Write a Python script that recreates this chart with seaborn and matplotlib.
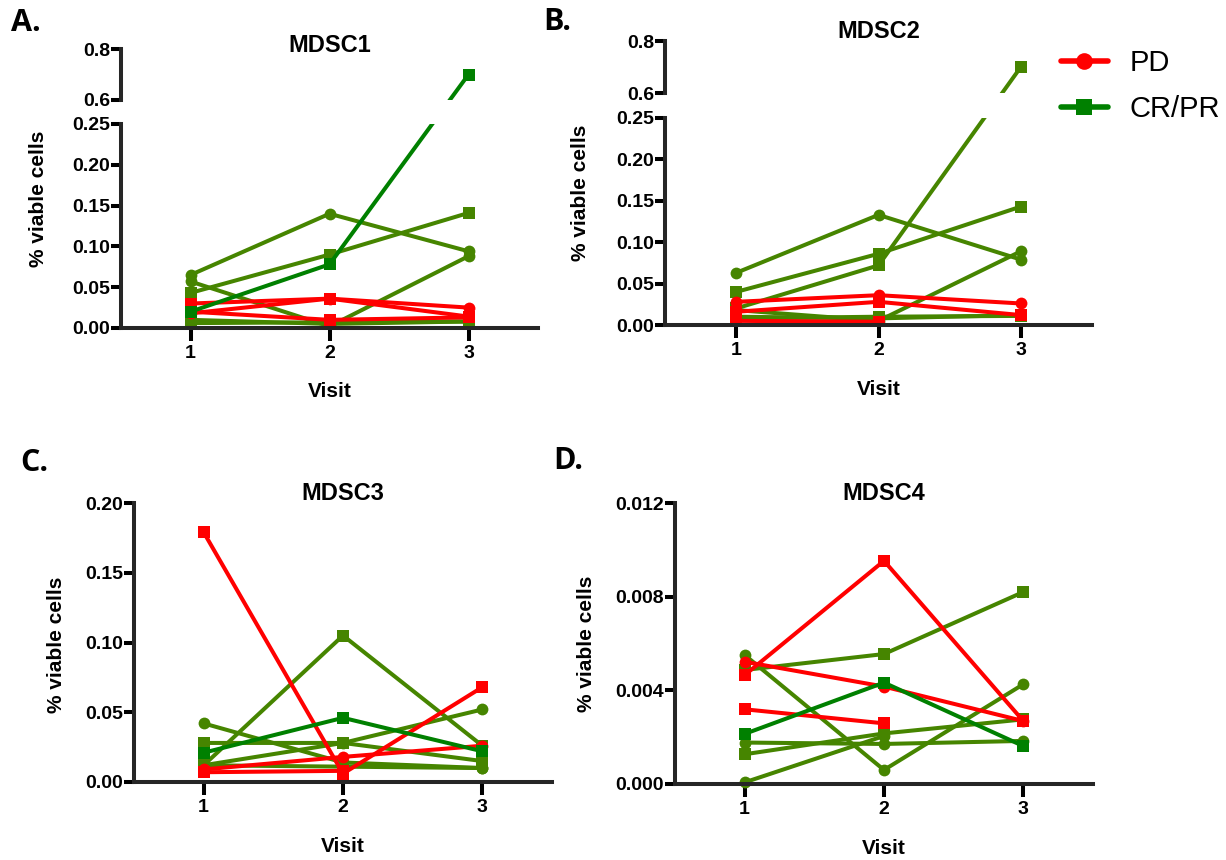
import matplotlib
matplotlib.use("Agg")
import matplotlib.pyplot as plt
import seaborn as sns
import numpy as np
from matplotlib.lines import Line2D

visits = [1, 2, 3]
nan = np.nan

# MDSC1 (panel A)
mdsc1_pd = [[0.030, 0.036, 0.014], [0.018, 0.036, 0.025], [0.020, 0.010, 0.013]]
mdsc1_pd_marks = ['s', 'o', 's']
mdsc1_cr = [[0.065, 0.140, 0.094], [0.043, 0.090, 0.141], [0.057, 0.002, 0.088],
            [0.010, 0.005, 0.008], [0.006, 0.007, 0.008]]
mdsc1_cr_marks = ['o', 's', 'o', 's', 's']
mdsc1_cr_hi = [0.020, 0.078, 0.700]

# MDSC2 (panel B)
mdsc2_pd = [[0.028, 0.036, 0.026], [0.016, 0.028, 0.012], [0.005, 0.004, nan]]
mdsc2_pd_marks = ['o', 's', 's']
mdsc2_cr = [[0.063, 0.133, 0.079], [0.040, 0.086, 0.143], [0.020, 0.072, 0.700],
            [0.018, 0.005, 0.089], [0.008, 0.010, 0.011], [0.010, 0.008, 0.012]]
mdsc2_cr_marks = ['o', 's', 's', 'o', 's', 's']
mdsc2_cr_hi = None

# MDSC3 (panel C)
mdsc3_pd = [[0.179, 0.006, 0.068], [0.009, 0.018, 0.026], [0.007, 0.008, nan]]
mdsc3_pd_marks = ['s', 'o', 's']
mdsc3_cr = [[0.012, 0.105, 0.026], [0.042, 0.014, 0.010], [0.028, 0.028, 0.015],
            [0.012, 0.028, 0.052], [0.012, 0.011, 0.010]]
mdsc3_cr_marks = ['s', 'o', 's', 'o', 'o']
mdsc3_cr_hi = [0.021, 0.046, 0.022]

# MDSC4 (panel D)
mdsc4_pd = [[0.00465, 0.00953, 0.00269], [0.00522, 0.00416, 0.00269], [0.00319, 0.00259, nan]]
mdsc4_pd_marks = ['s', 'o', 's']
mdsc4_cr = [[0.00487, 0.00555, 0.00820], [0.00551, 0.00060, 0.00426],
            [0.00127, 0.00216, 0.00276], [0.00177, 0.00171, 0.00184],
            [0.00007, 0.00205, nan]]
mdsc4_cr_marks = ['s', 'o', 's', 'o', 'o']
mdsc4_cr_hi = [0.00214, 0.00433, 0.00162]

RED = '#ff0000'
OLIVE = '#468500'
GREEN = '#008000'
LW = 2.9
MS = 8.5
SPINE = 2.9

sns.set_style("ticks")
plt.rcParams['font.family'] = ['Liberation Sans', 'DejaVu Sans']
plt.rcParams['font.weight'] = 'bold'
plt.rcParams['text.color'] = 'black'
plt.rcParams['axes.labelcolor'] = 'black'

W, H = 1226, 860
fig = plt.figure(figsize=(W / 100, H / 100), dpi=100)


def rect(x0, x1, y0, y1):
    return [x0 / W, 1 - y1 / H, (x1 - x0) / W, (y1 - y0) / H]


def draw(ax, pd_vals, pd_marks, cr_vals, cr_marks, cr_hi, clip):
    kw = dict(ax=ax, linewidth=LW, markersize=MS, markeredgewidth=0,
              legend=False, clip_on=clip)
    for vals, m in zip(cr_vals, cr_marks):
        sns.lineplot(x=visits, y=vals, color=OLIVE, marker=m, **kw)
    for vals, m in zip(pd_vals, pd_marks):
        sns.lineplot(x=visits, y=vals, color=RED, marker=m, **kw)
    if cr_hi is not None:
        sns.lineplot(x=visits, y=cr_hi, color=GREEN, marker='s', **kw)


def style(ax, bottom=True):
    sns.despine(ax=ax)
    ax.spines['left'].set_linewidth(SPINE)
    ax.spines['bottom'].set_linewidth(SPINE)
    ax.tick_params(width=SPINE, length=7, labelsize=14, pad=1, colors='black')
    ax.tick_params(axis='x', length=9, pad=3)
    ax.set_xlim(0.5, 3.5)
    ax.set_xlabel('')
    ax.set_ylabel('')
    ax.minorticks_off()
    if bottom:
        ax.set_xticks(visits)
    else:
        ax.spines['bottom'].set_visible(False)
        ax.set_xticks([])


def break_mark(ax, y):
    # short inward tick at the axis break, like the original
    ax.set_yticks([y], minor=True)
    ax.tick_params(axis='y', which='minor', direction='in', length=7,
                   width=SPINE, color='black', labelleft=False)


def broken_scale(top_y, bot_y, lo=(0, 0.25), hi=(0.6, 0.8)):
    # piecewise mapping so that both halves share one visual y axis
    k_lo = (bot_y[1] - bot_y[0]) / (lo[1] - lo[0])
    gap = (bot_y[0] - top_y[1]) / k_lo
    k_hi = (top_y[1] - top_y[0]) / (hi[1] - hi[0]) / k_lo
    g_slope = gap / (hi[0] - lo[1])
    top0 = lo[1] + gap

    def fwd(y):
        y = np.asarray(y, dtype=float)
        return np.where(y <= lo[1], y,
                        np.where(y < hi[0], lo[1] + (y - lo[1]) * g_slope,
                                 top0 + (y - hi[0]) * k_hi))

    def inv(v):
        v = np.asarray(v, dtype=float)
        return np.where(v <= lo[1], v,
                        np.where(v < top0, lo[1] + (v - lo[1]) / g_slope,
                                 hi[0] + (v - top0) / k_hi))
    return fwd, inv


def broken_panel(xr, top_y, bot_y, data, title, letter, letter_xy, title_y, ylab_x, visit_y):
    ax_top = fig.add_axes(rect(xr[0], xr[1], top_y[0], top_y[1]))
    ax_bot = fig.add_axes(rect(xr[0], xr[1], bot_y[0], bot_y[1]))
    funcs = broken_scale(top_y, bot_y)
    for ax in (ax_top, ax_bot):
        draw(ax, *data, clip=True)
        ax.set_yscale('function', functions=funcs)
    ax_top.set_ylim(0.6, 0.8)
    ax_top.set_yticks([0.6, 0.8])
    ax_top.set_yticklabels(['0.6', '0.8'])
    style(ax_top, bottom=False)
    break_mark(ax_top, 0.6)
    ax_bot.set_ylim(0, 0.25)
    ticks = np.arange(0, 0.2501, 0.05)
    ax_bot.set_yticks(ticks)
    ax_bot.set_yticklabels([f'{t:.2f}' for t in ticks])
    style(ax_bot)
    break_mark(ax_bot, 0.25)
    add_text(ax_bot, title, letter, letter_xy, title_y, ylab_x,
             (top_y[0] + bot_y[1]) / 2 + 10, visit_y)


def add_text(ax, title, letter, letter_xy, title_y, ylab_x, ylab_y, visit_y):
    x0, x1 = ax.get_position().x0 * W, ax.get_position().x1 * W
    cx = x0 + (x1 - x0) * (2 - 0.5) / 3
    fig.text(cx / W, 1 - title_y / H, title, ha='center', va='center', fontsize=17)
    fig.text(cx / W, 1 - visit_y / H, 'Visit', ha='center', va='center', fontsize=15)
    fig.text(ylab_x / W, 1 - ylab_y / H, '% viable cells', rotation=90,
             ha='center', va='center', fontsize=15)
    fig.text(letter_xy[0] / W, 1 - letter_xy[1] / H, letter, ha='left', va='center',
             fontsize=22, family=['Open Sans', 'DejaVu Sans'], fontweight='bold')


broken_panel((121, 538), (49, 100), (124, 328),
             (mdsc1_pd, mdsc1_pd_marks, mdsc1_cr, mdsc1_cr_marks, mdsc1_cr_hi),
             'MDSC1', 'A.', (11, 23), 45, 39, 392)
broken_panel((665, 1092), (41, 93), (118, 325),
             (mdsc2_pd, mdsc2_pd_marks, mdsc2_cr, mdsc2_cr_marks, mdsc2_cr_hi),
             'MDSC2', 'B.', (543, 22), 32, 580, 390)

ax_c = fig.add_axes(rect(134, 552, 503, 782))
draw(ax_c, mdsc3_pd, mdsc3_pd_marks, mdsc3_cr, mdsc3_cr_marks, mdsc3_cr_hi, clip=False)
ax_c.set_ylim(0, 0.20)
ticks_c = np.arange(0, 0.2001, 0.05)
ax_c.set_yticks(ticks_c)
ax_c.set_yticklabels([f'{t:.2f}' for t in ticks_c])
style(ax_c)
add_text(ax_c, 'MDSC3', 'C.', (20, 463), 494, 57, 645, 847)

ax_d = fig.add_axes(rect(675, 1093, 503, 784))
draw(ax_d, mdsc4_pd, mdsc4_pd_marks, mdsc4_cr, mdsc4_cr_marks, mdsc4_cr_hi, clip=False)
ax_d.set_ylim(0, 0.012)
ticks_d = np.arange(0, 0.01201, 0.004)
ax_d.set_yticks(ticks_d)
ax_d.set_yticklabels([f'{t:.3f}' for t in ticks_d])
style(ax_d)
add_text(ax_d, 'MDSC4', 'D.', (553, 461), 494, 586, 644, 848)

handles = [Line2D([], [], color=RED, marker='o', linewidth=4, markersize=12, markeredgewidth=0),
           Line2D([], [], color=GREEN, marker='s', linewidth=4, markersize=11, markeredgewidth=0)]
fig.legend(handles, ['PD', 'CR/PR'], loc='upper left',
           bbox_to_anchor=(1061 / W, 1 - 49 / H), frameon=False, borderpad=0,
           borderaxespad=0, handlelength=1.6, handletextpad=0.75, labelspacing=0.62,
           prop={'size': 21, 'weight': 'normal'})

fig.savefig('out.png', dpi=100)
